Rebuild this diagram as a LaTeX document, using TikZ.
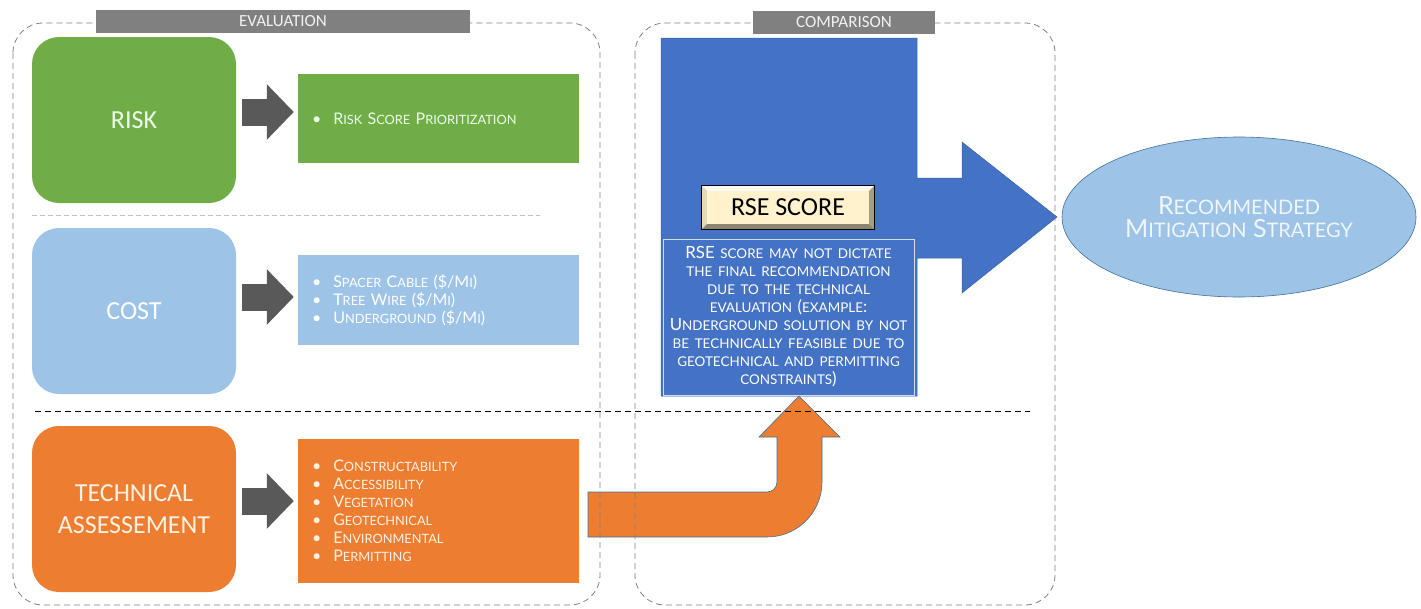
\documentclass[tikz,border=0pt]{standalone}
\usepackage{fontspec}
\setmainfont{Lato}
\newfontfamily\calfont{Carlito}
\usetikzlibrary{arrows.meta,positioning,shapes.geometric,calc}

\definecolor{riskgreen}{HTML}{70AD47}
\definecolor{costblue}{HTML}{9DC3E6}
\definecolor{techorange}{HTML}{ED7D31}
\definecolor{cmpblue}{HTML}{4472C4}
\definecolor{arrowgray}{HTML}{595959}
\definecolor{bargray}{HTML}{808080}
\definecolor{rsefill}{HTML}{FFF2CC}
\definecolor{edgeblue}{HTML}{41719C}

% small caps made by hand: lower case runs are set as smaller capitals
\makeatletter
\newcommand\fsclow[1]{{\fontsize{\fpeval{0.8*\f@size}}{\f@baselineskip}\selectfont\MakeUppercase{#1}}}
\makeatother
\ExplSyntaxOn
\NewDocumentCommand\fsc{m}
	{
		\tl_set:Nn \l_tmpa_tl {#1}
		\regex_replace_all:nnN { ([a-z]+) } { \c{fsclow} \cB\{ \1 \cE\} } \l_tmpa_tl
		\tl_use:N \l_tmpa_tl
	}
\ExplSyntaxOff

\begin{document}
\begin{tikzpicture}[x=1pt, y=-1pt,
	mainbox/.style={rounded corners=27pt, minimum width=204pt, minimum height=166pt, inner sep=0pt, align=center, font=\calfont\fontsize{26}{32}\selectfont},
	listbox/.style={minimum width=281pt, text width=253pt, inner xsep=14pt, inner ysep=0pt, align=left, font=\fontsize{16}{18}\selectfont},
	grayarrow/.style={draw=arrowgray, line width=27pt, -{Triangle[length=27pt,width=54pt]}, shorten <=6pt, shorten >=4pt},
	frame/.style={draw=bargray, line width=0.8pt, dash pattern=on 6pt off 4pt, rounded corners=30pt},
	titlebar/.style={fill=bargray, text=white!95!black, inner sep=0pt, minimum height=23pt, font=\calfont\fontsize{17}{20}\selectfont}]
	\useasboundingbox (0,0) rectangle (1421,608);

	% evaluation column
	\node[mainbox, fill=riskgreen, text=green!8!white] (risk) at (134,120) {RISK};
	\node[mainbox, fill=costblue, text=white] (cost) at (134,311) {COST};
	\node[mainbox, fill=techorange, text=orange!10!white] (tech) at (134,509) {TECHNICAL\\ASSESSEMENT};

	\node[listbox, fill=riskgreen, minimum height=89pt, text=green!8!white] (risklist) at (438.5,118.5)
		{\textbullet\hspace{12pt}\fsc{Risk Score Prioritization}};
	\node[listbox, fill=costblue, minimum height=90pt, text=white] (costlist) at (438.5,300)
		{\textbullet\hspace{12pt}\fsc{Spacer Cable (\$/Mi)}\\
		 \textbullet\hspace{12pt}\fsc{Tree Wire (\$/Mi)}\\
		 \textbullet\hspace{12pt}\fsc{Underground (\$/Mi)}};
	\node[listbox, fill=techorange, minimum height=144pt, text=orange!10!white] (techlist) at (438.5,511)
		{\textbullet\hspace{12pt}\fsc{Constructability}\\
		 \textbullet\hspace{12pt}\fsc{Accessibility}\\
		 \textbullet\hspace{12pt}\fsc{Vegetation}\\
		 \textbullet\hspace{12pt}\fsc{Geotechnical}\\
		 \textbullet\hspace{12pt}\fsc{Environmental}\\
		 \textbullet\hspace{12pt}\fsc{Permitting}};

	\draw[grayarrow] ([yshift=8pt]risk.east) -- ([yshift=8pt]risk.east -| risklist.west);
	\draw[grayarrow] ([yshift=14pt]cost.east) -- ([yshift=14pt]cost.east -| costlist.west);
	\draw[grayarrow] ([yshift=8pt]tech.east) -- ([yshift=8pt]tech.east -| techlist.west);

	% comparison column
	\filldraw[fill=cmpblue, draw=cmpblue!85!black, line width=0.5pt] (661,38) -- (917,38) -- (917,178) -- (962,178) -- (962,142)
		-- (1057,217) -- (962,293) -- (962,258) -- (917,258) -- (917,396) -- (661,396) -- cycle;

	\node[fill=rsefill, minimum width=172pt, minimum height=43pt, inner sep=0pt] (rse) at (788,207.5) {};
	\fill[white!70!rsefill] (rse.north west) -- (rse.north east) -- ($(rse.north east)+(-5,5)$) -- ($(rse.north west)+(5,5)$) -- cycle;
	\fill[rsefill!90!black] (rse.north west) -- ($(rse.north west)+(5,5)$) -- ($(rse.south west)+(5,-5)$) -- (rse.south west) -- cycle;
	\fill[rsefill!65!black] (rse.north east) -- ($(rse.north east)+(-5,5)$) -- ($(rse.south east)+(-5,-5)$) -- (rse.south east) -- cycle;
	\fill[rsefill!55!black] (rse.south west) -- ($(rse.south west)+(5,-5)$) -- ($(rse.south east)+(-5,-5)$) -- (rse.south east) -- cycle;
	\draw[line width=1pt] (rse.north west) rectangle (rse.south east);
	\node[font=\calfont\fontsize{26}{30}\selectfont] (rsetext) at (rse) {RSE SCORE};

	\node[draw=white!75!cmpblue, line width=0.6pt, fill=cmpblue, minimum width=251pt, minimum height=156pt, text width=247pt,
		inner sep=0pt, align=center, text=white, font=\fontsize{16.8}{18}\selectfont] (note) at (788.5,317)
		{\fsc{RSE score may not dictate\\the final recommendation\\due to the technical\\evaluation (example:\\Underground solution by not\\be technically feasible due to\\geotechnical and permitting\\constraints)}};

	\node[ellipse, draw=edgeblue, line width=0.6pt, fill=costblue, minimum width=354pt, minimum height=160pt, inner sep=0pt,
		align=center, text=white!85!costblue, font=\fontsize{25}{23}\selectfont] (strategy) at (1239,217)
		{\fsc{Recommended\\Mitigation Strategy}};

	% bent arrow from the technical list up to the note
	\filldraw[fill=techorange, draw=edgeblue, line width=0.6pt] (588,492) -- (767,492) .. controls (772.5,492) and (777,487.5) .. (777,482)
		-- (777,437) -- (759,437) -- (799,396) -- (840,437) -- (822,437) -- (822,482)
		.. controls (822,512.4) and (797.4,537) .. (767,537) -- (588,537) -- cycle;

	% frames and titles
	\draw[frame] (13,23) rectangle (600,605);
	\draw[frame] (635,23) rectangle (1055,605);
	\node[titlebar, minimum width=374pt] (evaltitle) at (283,21.5) {EVALUATION};
	\node[titlebar, minimum width=182pt] (cmptitle) at (844,22.5) {COMPARISON};

	\draw[black!25, line width=0.8pt, dash pattern=on 5pt off 3pt] (32,215) -- (540,215);
	\draw[black, line width=0.8pt, dash pattern=on 6pt off 4pt] (35,411) -- (1030,411);
\end{tikzpicture}
\end{document}
